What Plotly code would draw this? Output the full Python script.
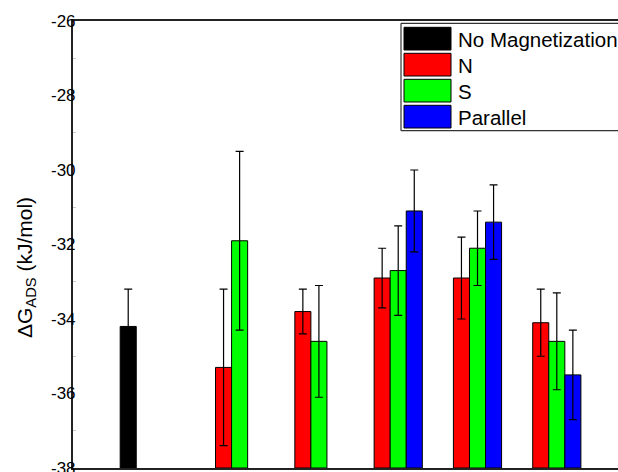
import plotly.graph_objects as go

# ---- data ----
categories = [1, 2, 3, 4, 5, 6]
series_names = ["No Magnetization", "N", "S", "Parallel"]
series_colors = ["#000000", "#ff0000", "#00ff00", "#0000ff"]
no_mag = [-34.2, None, None, None, None, None]
no_mag_err = [1.0, 0, 0, 0, 0, 0]
n_vals = [None, -35.3, -33.8, -32.9, -32.9, -34.1]
n_err = [0, 2.1, 0.6, 0.8, 1.1, 0.9]
s_vals = [None, -31.9, -34.6, -32.7, -32.1, -34.6]
s_err = [0, 2.4, 1.5, 1.2, 1.0, 1.3]
par_vals = [None, None, None, -31.1, -31.4, -35.5]
par_err = [0, 0, 0, 1.1, 1.0, 1.2]
y_base = -38
tick_vals = [-38, -36, -34, -32, -30, -28, -26]
tick_labels = ["-38", "-36", "-34", "-32", "-30", "-28", "-26"]
y_title = "ΔG<sub>ADS</sub> (kJ/mol)"

all_vals = [no_mag, n_vals, s_vals, par_vals]
all_errs = [no_mag_err, n_err, s_err, par_err]

fig = go.Figure()
for name, color, vals, errs in zip(series_names, series_colors, all_vals, all_errs):
    lengths = [None if v is None else v - y_base for v in vals]
    fig.add_trace(go.Bar(
        x=categories, y=lengths, base=y_base, name=name,
        marker=dict(color=color, line=dict(color="black", width=1)),
        error_y=dict(type="data", array=errs, visible=True, color="black",
                     thickness=1.2, width=4),
        showlegend=False,
    ))

# plot area in px: left 73, right 618, top 21, bottom 468
L, R, T, B = 73, 618, 21, 468
W, H = 618, 472
def px(xp):
    return (xp - L) / (R - L)
def py(yp):
    return (B - yp) / (B - T)

# manual legend (box open to the right, as it is cut off by the page edge)
box_l, box_t, box_b, box_r = 401, 23.3, 130.7, 618
line_style = dict(color="#333333", width=1.2)
shapes = [
    dict(type="line", xref="paper", yref="paper", x0=px(box_l), x1=px(box_r),
         y0=py(box_t), y1=py(box_t), line=line_style, layer="above"),
    dict(type="line", xref="paper", yref="paper", x0=px(box_l), x1=px(box_r),
         y0=py(box_b), y1=py(box_b), line=line_style, layer="above"),
    dict(type="line", xref="paper", yref="paper", x0=px(box_l), x1=px(box_l),
         y0=py(box_b), y1=py(box_t), line=line_style, layer="above"),
]
annotations = []
for i, (name, color) in enumerate(zip(series_names, series_colors)):
    top = 27.3 + 26 * i
    shapes.append(dict(type="rect", xref="paper", yref="paper",
                       x0=px(404), x1=px(451), y0=py(top + 22.7), y1=py(top),
                       line=dict(color="black", width=1), fillcolor=color, layer="above"))
    annotations.append(dict(text=name, xref="paper", yref="paper",
                            x=px(457), y=py(top + 12), xanchor="left", yanchor="middle",
                            showarrow=False, borderpad=0,
                            font=dict(size=20.5, color="black")))

# y tick labels, right-aligned against the axis line
for v, lab in zip(tick_vals, tick_labels):
    annotations.append(dict(text=lab, xref="paper", yref="y", x=px(77), y=v,
                            xanchor="right", yanchor="middle", showarrow=False,
                            borderpad=0, font=dict(size=17, color="black")))

annotations.append(dict(text=y_title, xref="paper", yref="paper",
                        x=px(26), y=py(268), textangle=-90, xanchor="center", yanchor="middle",
                        showarrow=False, font=dict(size=21, color="black")))

fig.update_layout(
    width=W, height=H,
    margin=dict(l=L, r=W - R, t=T, b=H - B, pad=0),
    barmode="group", bargap=0.19, bargroupgap=0,
    plot_bgcolor="white", paper_bgcolor="white",
    font=dict(family="Arial, Liberation Sans, sans-serif", color="black"),
    shapes=shapes, annotations=annotations,
    showlegend=False,
)
fig.update_xaxes(range=[0, 6.873], showticklabels=False, ticks="", showgrid=False,
                 zeroline=False, showline=True, linecolor="#222222", linewidth=2,
                 mirror=True, automargin=False)
fig.update_yaxes(range=[-38, -26], tickvals=tick_vals, showticklabels=False,
                 ticks="", showgrid=False, zeroline=False, showline=True,
                 linecolor="#222222", linewidth=2, mirror=False, automargin=False,
                 minor=dict(ticks="inside", ticklen=3, tickcolor="#cccccc",
                            tickvals=[-37, -35, -33, -31, -29, -27]))

fig.write_html("out.html")
